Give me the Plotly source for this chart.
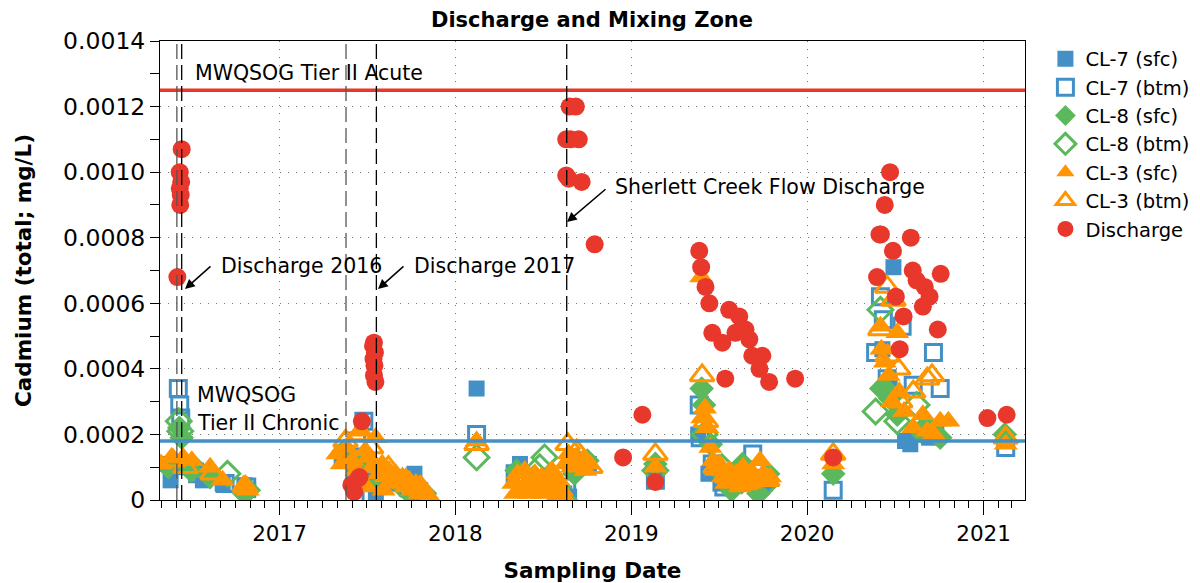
import plotly.graph_objects as go

# ---------------- data ----------------
cl7_sfc_dates = ["2016-04-28", "2016-05-20", "2016-06-05", "2016-07-12", "2016-07-26", "2016-09-05", "2016-10-20", "2016-10-28",
                 "2017-05-10", "2017-06-05", "2017-07-01", "2017-07-20", "2017-08-20", "2017-10-08", "2017-10-20",
                 "2018-02-14",
                 "2018-05-15", "2018-06-10", "2018-07-15", "2018-08-15", "2018-08-25", "2018-09-20", "2018-10-05",
                 "2019-02-20",
                 "2019-05-20", "2019-06-10", "2019-07-05", "2019-08-10", "2019-09-15", "2019-10-05",
                 "2020-06-28", "2020-06-05", "2020-06-20", "2020-07-22", "2020-08-02", "2020-09-10", "2020-09-25"]
cl7_sfc_vals = [0.00011, 0.00006, 0.00010, 0.00009, 0.00006, 0.00005, 0.000045, 0.00003,
                0.00012, 0.00008, 0.00006, 0.00002, 0.00005, 0.00008, 0.00003,
                0.00034,
                0.00011, 0.00006, 0.00005, 0.00002, 0.00001, 0.00010, 0.00011,
                0.00008,
                0.00020, 0.00008, 0.00005, 0.00009, 0.00007, 0.00005,
                0.00071, 0.00046, 0.00036, 0.00018, 0.00017, 0.00019, 0.00022]

cl7_btm_dates = ["2016-06-05", "2016-06-08", "2016-06-10", "2016-07-15", "2016-09-10", "2016-10-25",
                 "2017-06-25", "2017-06-10", "2017-07-10", "2017-08-10", "2017-09-25",
                 "2018-02-14",
                 "2018-05-05", "2018-07-01", "2018-08-20", "2018-09-15",
                 "2019-02-20",
                 "2019-05-22", "2019-05-24", "2019-06-18", "2019-07-12", "2019-08-01", "2019-09-10", "2019-09-28",
                 "2020-02-24",
                 "2020-06-01", "2020-06-07", "2020-07-16", "2020-09-19", "2020-05-22", "2020-06-15", "2020-10-03", "2020-08-08",
                 "2021-02-16"]
cl7_btm_vals = [0.00034, 0.00029, 0.00025, 0.00008, 0.00005, 0.00004,
                0.00024, 0.00018, 0.00002, 0.00006, 0.00004,
                0.00020,
                0.00008, 0.00006, 0.00004, 0.00012,
                0.00006,
                0.00029, 0.00019, 0.00011, 0.00004, 0.00008, 0.00014, 0.00005,
                0.00003,
                0.00062, 0.00055, 0.00053, 0.00045, 0.00045, 0.00037, 0.00034, 0.00035,
                0.00016]

cl8_sfc_dates = ["2016-06-07", "2016-06-12", "2016-05-15", "2016-07-01", "2016-08-10", "2016-10-20",
                 "2017-05-15", "2017-06-12", "2017-07-05", "2017-07-25", "2017-09-01", "2017-10-05", "2017-10-30",
                 "2018-05-08", "2018-06-12", "2018-07-18", "2018-08-18", "2018-09-05", "2018-10-02",
                 "2019-02-20",
                 "2019-05-27", "2019-06-01", "2019-06-15", "2019-07-01", "2019-07-28", "2019-08-20", "2019-09-22", "2019-10-12",
                 "2020-02-24",
                 "2020-06-07", "2020-06-21", "2020-08-23", "2020-10-03", "2020-07-06", "2020-09-06",
                 "2021-02-14"]
cl8_sfc_vals = [0.00022, 0.00019, 0.00010, 0.00009, 0.00007, 0.00002,
                0.00015, 0.00010, 0.00012, 0.00005, 0.00006, 0.00001, 0.00002,
                0.00009, 0.00007, 0.00005, 0.00000, 0.00008, 0.00012,
                0.00011,
                0.00034, 0.00029, 0.00017, 0.00009, 0.00003, 0.00011, 0.00002, 0.00008,
                0.00008,
                0.00034, 0.00031, 0.00021, 0.00019, 0.00026, 0.00023,
                0.00020]

cl8_btm_dates = ["2016-06-06", "2016-06-09", "2016-07-05", "2016-09-15", "2016-10-25",
                 "2017-05-25", "2017-06-30", "2017-08-05", "2017-09-10", "2017-10-15",
                 "2018-02-14",
                 "2018-06-25", "2018-07-05", "2018-08-01", "2018-09-12",
                 "2019-02-20",
                 "2019-06-02", "2019-07-08", "2019-08-18", "2019-09-30",
                 "2020-06-01", "2020-06-07", "2020-05-22", "2020-07-06", "2020-08-15"]
cl8_btm_vals = [0.00024, 0.00021, 0.00010, 0.00008, 0.00003,
                0.00013, 0.00009, 0.00007, 0.00005, 0.00003,
                0.00013,
                0.00010, 0.00013, 0.00004, 0.00010,
                0.00009,
                0.00020, 0.00010, 0.00006, 0.00004,
                0.00058, 0.00034, 0.00027, 0.00024, 0.00029]

cl3_sfc_dates = ["2016-04-30", "2016-05-22", "2016-06-15", "2016-07-03", "2016-08-10", "2016-09-05", "2016-10-18", "2016-10-27",
                 "2017-05-01", "2017-05-10", "2017-05-20", "2017-06-01", "2017-06-10", "2017-06-20", "2017-06-28", "2017-07-05",
                 "2017-07-12", "2017-07-19", "2017-07-26", "2017-08-02", "2017-08-09", "2017-08-16", "2017-08-23", "2017-08-30",
                 "2017-09-06", "2017-09-13", "2017-09-20", "2017-09-27", "2017-10-04", "2017-10-11", "2017-10-18", "2017-10-25",
                 "2017-11-01", "2017-11-08", "2017-06-15", "2017-07-01", "2017-08-05",
                 "2018-02-14",
                 "2018-05-01", "2018-05-10", "2018-05-18", "2018-05-25", "2018-06-01", "2018-06-08", "2018-06-15", "2018-06-22",
                 "2018-06-29", "2018-07-06", "2018-07-13", "2018-07-20", "2018-07-27", "2018-08-03", "2018-08-10", "2018-08-17",
                 "2018-08-24", "2018-08-31", "2018-09-07", "2018-09-14", "2018-09-21", "2018-09-28", "2018-10-05",
                 "2018-05-05", "2018-06-05", "2018-07-01", "2018-07-30", "2018-08-14",
                 "2019-02-20",
                 "2019-05-26", "2019-05-28", "2019-06-03", "2019-06-08", "2019-06-14", "2019-06-20", "2019-06-26", "2019-07-03",
                 "2019-07-10", "2019-07-17", "2019-07-24", "2019-07-31", "2019-08-07", "2019-08-14", "2019-08-21", "2019-08-28",
                 "2019-09-04", "2019-09-11", "2019-09-18", "2019-09-25", "2019-10-02", "2019-10-09", "2019-10-16",
                 "2020-02-24",
                 "2020-06-01", "2020-06-03", "2020-07-06", "2020-06-10", "2020-06-18", "2020-06-25", "2020-07-10", "2020-07-20",
                 "2020-08-08", "2020-09-06", "2020-10-03", "2020-10-20", "2020-08-28", "2020-09-20",
                 "2021-02-16"]
cl3_sfc_vals = [0.00011, 0.00013, 0.00013, 0.00012, 0.00010, 0.00006, 0.000045, 0.00003,
                0.00014, 0.00011, 0.00016, 0.00012, 0.00009, 0.00021, 0.00015, 0.00013,
                0.00010, 0.00019, 0.00008, 0.00011, 0.00007, 0.00009, 0.00006, 0.00008,
                0.00005, 0.00007, 0.00004, 0.00006, 0.00003, 0.00005, 0.00002, 0.00004,
                0.00002, 0.00001, 0.00006, 0.00004, 0.00003,
                0.00018,
                0.00005, 0.00008, 0.00003, 0.00009, 0.00006, 0.00004, 0.00008, 0.00005,
                0.00007, 0.00003, 0.00006, 0.00009, 0.00004, 0.00006, 0.00003, 0.00011,
                0.00014, 0.00010, 0.00013, 0.00011, 0.00012, 0.00009, 0.00011,
                0.00002, 0.00002, 0.00002, 0.00001, 0.00001,
                0.00010,
                0.00068, 0.00025, 0.00028, 0.00022, 0.00016, 0.00012, 0.00009, 0.00011,
                0.00007, 0.00005, 0.00009, 0.00006, 0.00008, 0.00004, 0.00010, 0.00007,
                0.00005, 0.00008, 0.00006, 0.00012, 0.00008, 0.00006, 0.00007,
                0.00011,
                0.00053, 0.00046, 0.00051, 0.00042, 0.00038, 0.00030, 0.00033, 0.00027,
                0.00022, 0.00021, 0.00024, 0.00024, 0.00026, 0.00020,
                0.00017]

cl3_btm_dates = ["2016-05-25", "2016-06-20", "2016-08-15", "2016-10-22",
                 "2017-05-18", "2017-06-14", "2017-07-10", "2017-08-15", "2017-09-20", "2017-10-20",
                 "2018-02-14",
                 "2018-05-20", "2018-06-20", "2018-07-25", "2018-08-22", "2018-08-29", "2018-09-10", "2018-09-25", "2018-10-08",
                 "2019-02-20",
                 "2019-05-28", "2019-06-05", "2019-06-25", "2019-07-20", "2019-08-25", "2019-09-20", "2019-10-10",
                 "2020-02-24",
                 "2020-06-15", "2020-06-28", "2020-06-01", "2020-06-16", "2020-07-08", "2020-07-12", "2020-09-06",
                 "2020-09-16", "2020-08-08",
                 "2021-02-16"]
cl3_btm_vals = [0.00012, 0.00010, 0.00008, 0.00004,
                0.00018, 0.00020, 0.00016, 0.00010, 0.00006, 0.00004,
                0.00017,
                0.00007, 0.00005, 0.00006, 0.00017, 0.00012, 0.00015, 0.00012, 0.00010,
                0.00014,
                0.00038, 0.00024, 0.00010, 0.00007, 0.00005, 0.00009, 0.00006,
                0.00014,
                0.00065, 0.00061, 0.00052, 0.00044, 0.00040, 0.00030, 0.00037,
                0.00038, 0.00033,
                0.00019]

discharge_dates = ["2016-06-12", "2016-06-08", "2016-06-11", "2016-06-08", "2016-06-10", "2016-06-09", "2016-06-03",
                   "2017-07-16", "2017-07-14", "2017-07-18", "2017-07-15", "2017-07-17", "2017-07-16", "2017-07-19",
                   "2017-06-21", "2017-05-30", "2017-06-05", "2017-06-14", "2017-06-16",
                   "2018-08-26", "2018-09-08", "2018-08-19", "2018-08-28", "2018-09-14", "2018-08-19", "2018-08-24",
                   "2018-09-20", "2018-10-17",
                   "2018-12-15", "2019-01-24", "2019-02-20",
                   "2019-05-22", "2019-05-26", "2019-06-04", "2019-06-12", "2019-06-18", "2019-07-09", "2019-07-15",
                   "2019-07-23", "2019-08-05", "2019-08-13", "2019-08-26", "2019-09-03", "2019-09-09", "2019-09-24",
                   "2019-09-30", "2019-10-14", "2019-12-07",
                   "2020-02-24",
                   "2020-06-21", "2020-06-10", "2020-06-02", "2020-05-30", "2020-08-03", "2020-06-27", "2020-08-07",
                   "2020-10-04", "2020-05-25", "2020-08-15", "2020-09-01", "2020-09-11", "2020-07-03", "2020-08-28",
                   "2020-07-19", "2020-09-28", "2020-07-11",
                   "2021-01-09", "2021-02-18"]
discharge_vals = [0.00107, 0.00100, 0.00097, 0.00095, 0.00093, 0.00090, 0.00068,
                  0.00048, 0.00047, 0.00045, 0.00043, 0.00041, 0.00038, 0.00036,
                  0.00024, 0.000046, 0.000025, 0.000067, 0.00007,
                  0.00120, 0.00120, 0.00110, 0.00110, 0.00110, 0.00099, 0.00098,
                  0.00097, 0.00078,
                  0.00013, 0.00026, 0.000055,
                  0.00076, 0.00071, 0.00065, 0.00060, 0.00051, 0.00048, 0.00037,
                  0.00058, 0.00051, 0.00056, 0.00052, 0.00049, 0.00044, 0.00040,
                  0.00044, 0.00036, 0.00037,
                  0.00013,
                  0.00100, 0.00090, 0.00081, 0.00081, 0.00080, 0.00076, 0.00070,
                  0.00069, 0.00068, 0.00067, 0.00065, 0.00062, 0.00062, 0.00059,
                  0.00056, 0.00052, 0.00046,
                  0.00025, 0.00026]

acute_guideline = 0.00125
chronic_guideline = 0.00018
event_dates = ["2016-06-02", "2016-06-12", "2017-05-19", "2017-07-21", "2018-08-20"]
event_colors = ["#555555", "#000000", "#555555", "#000000", "#000000"]

y_tickvals = [0, 0.0002, 0.0004, 0.0006, 0.0008, 0.0010, 0.0012, 0.0014]
y_ticktext = ["0", "0.0002", "0.0004", "0.0006", "0.0008", "0.0010", "0.0012", "0.0014"]

BLUE = "#4290c6"
GREEN = "#5cb85c"
ORANGE = "#ff9500"
RED = "#e8372b"
FONT = "DejaVu Sans"

# ---------------- figure ----------------
fig = go.Figure()

series = [
    ("CL-7 (sfc)", cl7_sfc_dates, cl7_sfc_vals, "square", BLUE, 16),
    ("CL-7 (btm)", cl7_btm_dates, cl7_btm_vals, "square-open", BLUE, 16),
    ("CL-8 (sfc)", cl8_sfc_dates, cl8_sfc_vals, "diamond", GREEN, 19),
    ("CL-8 (btm)", cl8_btm_dates, cl8_btm_vals, "diamond-open", GREEN, 19),
    ("CL-3 (sfc)", cl3_sfc_dates, cl3_sfc_vals, "triangle-up", ORANGE, 21),
    ("CL-3 (btm)", cl3_btm_dates, cl3_btm_vals, "triangle-up-open", ORANGE, 21),
    ("Discharge", discharge_dates, discharge_vals, "circle", RED, 18),
]
for name, xs, ys, sym, col, size in series:
    fig.add_trace(go.Scatter(
        x=xs, y=ys, mode="markers", name=name,
        marker=dict(symbol=sym, color=col, size=size,
                    line=dict(color=col, width=3 if "open" in sym else 0)),
    ))

# guideline lines
fig.add_shape(type="line", xref="paper", yref="y", x0=0, x1=1, y0=acute_guideline, y1=acute_guideline,
              line=dict(color=RED, width=3.5), layer="above")
fig.add_shape(type="line", xref="paper", yref="y", x0=0, x1=1, y0=chronic_guideline, y1=chronic_guideline,
              line=dict(color=BLUE, width=3.5), layer="above")
for d, c in zip(event_dates, event_colors):
    fig.add_shape(type="line", xref="x", yref="paper", x0=d, x1=d, y0=0, y1=1,
                  line=dict(color=c, width=1.3, dash="15px,6px"), layer="above")

# annotations
L, R, T, B = 160, 1025, 41, 500
def px(xp):
    return (xp - L) / (R - L)
def py(yp):
    return (B - yp) / (B - T)

txt_font = dict(family=FONT, size=20.5, color="black")
labels = [
    ("MWQSOG Tier II Acute", 193, 73),
    ("MWQSOG", 195, 395),
    ("Tier II Chronic", 195, 423),
    ("Discharge 2016", 219, 266),
    ("Discharge 2017", 412, 266),
    ("Sherlett Creek Flow Discharge", 613, 187),
]
for t, x, y in labels:
    fig.add_annotation(text=t, xref="paper", yref="paper", x=px(x), y=py(y),
                       xanchor="left", yanchor="middle", showarrow=False, font=txt_font)

arrows = [((185, 289), (212, 265)), ((378, 289), (405, 265)), ((567, 222), (607, 188))]
for (hx, hy), (tx, ty) in arrows:
    fig.add_annotation(text="", xref="paper", yref="paper", x=px(hx), y=py(hy),
                       ax=tx - hx, ay=ty - hy, showarrow=True, arrowhead=2, arrowsize=1.3,
                       arrowwidth=1.5, arrowcolor="black")

fig.update_layout(
    width=1200, height=583,
    margin=dict(l=L, r=1200 - R, t=T, b=583 - B, autoexpand=False),
    paper_bgcolor="white", plot_bgcolor="white",
    font=dict(family=FONT, size=20, color="black"),
    title=dict(text="<b>Discharge and Mixing Zone</b>", x=592 / 1200, xanchor="center", xref="container",
               y=1 - 20 / 583, yanchor="middle", font=dict(family=FONT, size=21, color="black")),
    showlegend=True,
    legend=dict(x=1.0236, y=1.003, xanchor="left", yanchor="top", font=dict(family=FONT, size=19.5),
                bgcolor="rgba(0,0,0,0)", tracegroupgap=0),
)
fig.update_xaxes(
    type="date", range=["2016-04-28", "2021-03-28"], automargin=False,
    showline=True, linecolor="black", linewidth=1, mirror=True,
    ticks="outside", ticklen=14, tickcolor="black", tickwidth=1,
    dtick="M12", tick0="2017-01-01", tickformat="%Y",
    tickfont=dict(family=FONT, size=21.5),
    showgrid=True, gridcolor="#777777", griddash="1px,7px", gridwidth=1,
    minor=dict(dtick="M1", tick0="2017-01-01", ticks="outside", ticklen=7, tickcolor="black", showgrid=False),
    title=dict(text="<b>Sampling Date</b>", font=dict(family=FONT, size=21.5), standoff=18),
    zeroline=False,
)
fig.update_yaxes(
    range=[0, 0.0014], automargin=False,
    showline=True, linecolor="black", linewidth=1, mirror=True,
    ticks="outside", ticklen=9, tickcolor="black",
    tickvals=y_tickvals, ticktext=y_ticktext,
    tickfont=dict(family=FONT, size=23.5),
    showgrid=True, gridcolor="#777777", griddash="1px,7px", gridwidth=1,
    minor=dict(dtick=0.0001, tick0=0, ticks="outside", ticklen=9, tickcolor="black", showgrid=False),
    title=dict(text="<b>Cadmium (total; mg/L)</b>", font=dict(family=FONT, size=21.5), standoff=25),
    zeroline=False,
)

fig.write_html("out.html", config={"displayModeBar": False},
               post_script="document.body.style.margin='0';")
